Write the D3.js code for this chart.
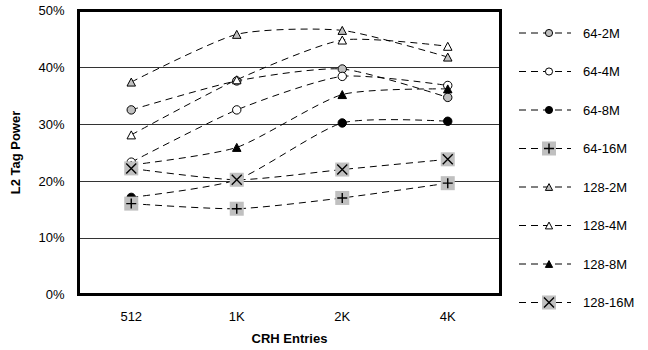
<!DOCTYPE html>
<html>
<head>
<meta charset="utf-8">
<script src="https://cdn.jsdelivr.net/npm/d3@7"></script>
<style>
  body { margin: 0; background: #fff; }
  text { font-family: "Liberation Sans", Arial, sans-serif; }
</style>
</head>
<body>
<div id="chart"></div>
<script>
/* chart data */
const categories = ["512", "1K", "2K", "4K"];
const seriesNames = ["64-2M", "64-4M", "64-8M", "64-16M", "128-2M", "128-4M", "128-8M", "128-16M"];
const s64_2M = [32.5, 37.6, 39.7, 34.7];
const s64_4M = [23.3, 32.5, 38.4, 36.8];
const s64_8M = [17.1, 20.2, 30.2, 30.5];
const s64_16M = [16.0, 15.1, 17.0, 19.6];
const s128_2M = [37.4, 45.8, 46.5, 41.8];
const s128_4M = [28.1, 37.8, 44.8, 43.7];
const s128_8M = [22.8, 25.9, 35.2, 36.2];
const s128_16M = [22.2, 20.2, 22.0, 23.8];
const yTicks = [0, 10, 20, 30, 40, 50];

const seriesValues = [s64_2M, s64_4M, s64_8M, s64_16M, s128_2M, s128_4M, s128_8M, s128_16M];
// marker look for each series
const markerType = ["circle", "circle", "circle", "plus", "triangle", "triangle", "triangle", "cross"];
const markerFill = ["#c0c0c0", "#fff", "#000", "#c0c0c0", "#c0c0c0", "#fff", "#000", "#c0c0c0"];

const width = 648, height = 350;
const plot = {left: 78.5, right: 500.5, top: 10.5, bottom: 294.5};

const svg = d3.select("#chart").append("svg")
  .attr("width", width)
  .attr("height", height);

const x = d3.scaleBand()
  .domain(categories)
  .range([plot.left, plot.right]);
const y = d3.scaleLinear()
  .domain([0, 50])
  .range([plot.bottom, plot.top]);

// gridlines
svg.append("g")
  .selectAll("line")
  .data(yTicks.filter(d => d > 0 && d < 50))
  .enter().append("line")
  .attr("x1", plot.left)
  .attr("x2", plot.right)
  .attr("y1", d => Math.round(y(d)) + 0.5)
  .attr("y2", d => Math.round(y(d)) + 0.5)
  .attr("stroke", "#333")
  .attr("stroke-width", 1);

// y axis labels
const yAxis = svg.append("g")
  .attr("transform", "translate(" + (plot.left - 14) + ",0)")
  .call(d3.axisLeft(y).tickValues(yTicks).tickFormat(d => d + "%").tickSize(0).tickPadding(0));
yAxis.select(".domain").remove();
yAxis.selectAll("text")
  .attr("font-size", 13)
  .attr("font-family", "Liberation Sans, Arial, sans-serif")
  .attr("fill", "#000");

// x axis labels
const xAxis = svg.append("g")
  .attr("transform", "translate(0," + (plot.bottom + 17) + ")")
  .call(d3.axisBottom(x).tickSize(0).tickPadding(0));
xAxis.select(".domain").remove();
xAxis.selectAll("text")
  .attr("font-size", 13)
  .attr("font-family", "Liberation Sans, Arial, sans-serif")
  .attr("fill", "#000");

// axis titles
svg.append("text")
  .text("CRH Entries")
  .attr("x", (plot.left + plot.right) / 2)
  .attr("y", 343)
  .attr("text-anchor", "middle")
  .attr("font-size", 13)
  .attr("font-weight", "bold");

svg.append("text")
  .text("L2 Tag Power")
  .attr("transform", "translate(20," + ((plot.top + plot.bottom) / 2) + ") rotate(-90)")
  .attr("text-anchor", "middle")
  .attr("font-size", 13)
  .attr("font-weight", "bold");

// draw one marker into a group at (cx, cy)
function drawMarker(g, type, fill, cx, cy, scale) {
  if (type === "circle") {
    g.append("circle")
      .attr("cx", cx).attr("cy", cy)
      .attr("r", 4.2 * scale)
      .attr("fill", fill)
      .attr("stroke", "#000")
      .attr("stroke-width", 1);
  } else if (type === "triangle") {
    const w = 8.5 * scale, h = 8 * scale;
    g.append("path")
      .attr("d", "M" + cx + "," + (cy - h / 2) + "L" + (cx + w / 2) + "," + (cy + h / 2) +
        "L" + (cx - w / 2) + "," + (cy + h / 2) + "Z")
      .attr("fill", fill)
      .attr("stroke", "#000")
      .attr("stroke-width", 1);
  } else {
    const s = 14;
    g.append("rect")
      .attr("x", cx - s / 2).attr("y", cy - s / 2)
      .attr("width", s).attr("height", s)
      .attr("fill", fill);
    const k = 5;
    const d = type === "plus"
      ? "M" + (cx - k) + "," + cy + "L" + (cx + k) + "," + cy + "M" + cx + "," + (cy - k) + "L" + cx + "," + (cy + k)
      : "M" + (cx - k) + "," + (cy - k) + "L" + (cx + k) + "," + (cy + k) + "M" + (cx + k) + "," + (cy - k) + "L" + (cx - k) + "," + (cy + k);
    g.append("path")
      .attr("d", d)
      .attr("stroke", "#000")
      .attr("stroke-width", 1.4)
      .attr("fill", "none");
  }
}

const line = d3.line()
  .x((d, i) => x(categories[i]) + x.bandwidth() / 2)
  .y(d => y(d))
  .curve(d3.curveCardinal.tension(0.35));

// series: line first, then markers, in legend order
seriesValues.forEach((vals, si) => {
  const g = svg.append("g").attr("class", "series");
  g.append("path")
    .attr("d", line(vals))
    .attr("fill", "none")
    .attr("stroke", "#000")
    .attr("stroke-width", 1)
    .attr("stroke-dasharray", "7,5");
  vals.forEach((v, i) => {
    drawMarker(g, markerType[si], markerFill[si], x(categories[i]) + x.bandwidth() / 2, y(v), 1);
  });
});

// plot frame
svg.append("rect")
  .attr("x", plot.left)
  .attr("y", plot.top)
  .attr("width", plot.right - plot.left)
  .attr("height", plot.bottom - plot.top)
  .attr("fill", "none")
  .attr("stroke", "#000")
  .attr("stroke-width", 3);

// legend
const legend = svg.append("g").attr("class", "legend");
seriesNames.forEach((name, i) => {
  const ly = 33 + i * 38.5;
  const g = legend.append("g");
  g.append("line")
    .attr("x1", 519).attr("x2", 571)
    .attr("y1", ly).attr("y2", ly)
    .attr("stroke", "#000")
    .attr("stroke-width", 1)
    .attr("stroke-dasharray", "7,5");
  drawMarker(g, markerType[i], markerFill[i], 549, ly, 0.85);
  g.append("text")
    .text(name)
    .attr("x", 583)
    .attr("y", ly + 4.5)
    .attr("font-size", 13);
});
</script>
</body>
</html>
